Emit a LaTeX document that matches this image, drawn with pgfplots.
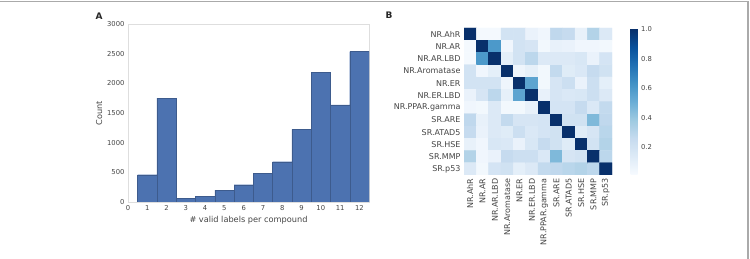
\documentclass[border=0pt]{standalone}
\usepackage{pgfplots}
\pgfplotsset{compat=1.18}
\usepackage{fontspec}
\setmainfont{DejaVu Sans}
\definecolor{histblue}{RGB}{76,114,176}
\definecolor{txt}{RGB}{68,68,68}
\definecolor{framegray}{RGB}{222,222,222}
\definecolor{pagerule}{RGB}{170,170,170}
% matplotlib "Blues"
\pgfplotsset{colormap={sbblues}{rgb255=(247,251,255) rgb255=(222,235,247) rgb255=(198,219,239)
  rgb255=(158,202,225) rgb255=(107,174,214) rgb255=(66,146,198) rgb255=(33,113,181)
  rgb255=(8,81,156) rgb255=(8,48,107)}}
\begin{document}
\begin{tikzpicture}
\path[use as bounding box] (0pt,0pt) rectangle (750pt,259pt);
\draw[pagerule, line width=1.4pt] (0pt,257.6pt) -- (747.8pt,257.6pt) -- (747.8pt,0pt);

\node[font=\bfseries\fontsize{9}{10}\selectfont, text=black!85] at (99pt,243pt) {A};
\node[font=\bfseries\fontsize{9}{10}\selectfont, text=black!85] at (389pt,244pt) {B};

% Panel A: histogram of valid labels per compound
\begin{axis}[
  at={(128pt,57pt)}, anchor=south west, scale only axis,
  width=241pt, height=178pt,
  xmin=0, xmax=12.5, ymin=0, ymax=3000,
  xtick={0,...,12}, ytick={0,500,...,3000},
  axis line style={draw=framegray, line width=0.6pt},
  tick style={draw=none},
  ticklabel style={font=\fontsize{6.8}{7}\selectfont, text=txt},
  /pgf/number format/assume math mode=true,
  /pgf/number format/1000 sep={},
  xlabel={\# valid labels per compound}, ylabel={Count},
  label style={font=\fontsize{8.2}{9}\selectfont, text=txt},
  xlabel style={at={(axis description cs:0.5,-0.105)}, anchor=center},
  ylabel style={at={(axis description cs:-0.12,0.5)}, anchor=center},
]
\addplot[ybar interval, fill=histblue, draw=histblue!80!black, line width=0.3pt]
  coordinates {(0.5,460) (1.5,1752) (2.5,58) (3.5,98) (4.5,198) (5.5,292) (6.5,482)
               (7.5,680) (8.5,1225) (9.5,2185) (10.5,1635) (11.5,2535) (12.5,2535)};
\end{axis}

% Panel B: correlation between assay labels
\begin{axis}[
  at={(464pt,84pt)}, anchor=south west, scale only axis,
  width=148pt, height=147pt,
  xmin=-0.5, xmax=11.5, ymin=-0.5, ymax=11.5, y dir=reverse,
  axis line style={draw=none}, tick style={draw=none},
  xtick={0,...,11}, ytick={0,...,11},
  xticklabels={NR.AhR,NR.AR,NR.AR.LBD,NR.Aromatase,NR.ER,NR.ER.LBD,NR.PPAR.gamma,SR.ARE,SR.ATAD5,SR.HSE,SR.MMP,SR.p53},
  yticklabels={NR.AhR,NR.AR,NR.AR.LBD,NR.Aromatase,NR.ER,NR.ER.LBD,NR.PPAR.gamma,SR.ARE,SR.ATAD5,SR.HSE,SR.MMP,SR.p53},
  x tick label style={rotate=90, anchor=east},
  ticklabel style={font=\fontsize{8}{9}\selectfont, text=txt},
  colormap name=sbblues,
  point meta min=0.014, point meta max=1,
  colorbar,
  colorbar style={
    at={(parent axis.north east)}, anchor=north west, xshift=10pt, yshift=-1pt,
    scale only axis, width=7pt, height=146pt,
    axis line style={draw=none}, tick style={draw=none},
    ytick={0.2,0.4,0.6,0.8,1.0},
    yticklabel style={font=\fontsize{6.8}{7}\selectfont, text=txt,
      /pgf/number format/.cd, fixed, fixed zerofill, precision=1, assume math mode=true},
  },
]
\addplot[matrix plot*, mesh/cols=12, point meta=explicit]
  table[row sep=\\, meta=z] {
x y z\\
0 0 1\\ 1 0 0.03\\ 2 0 0.03\\ 3 0 0.20\\ 4 0 0.20\\ 5 0 0.08\\ 6 0 0.05\\ 7 0 0.28\\ 8 0 0.26\\ 9 0 0.09\\ 10 0 0.32\\ 11 0 0.15\\
0 1 0.03\\ 1 1 1\\ 2 1 0.60\\ 3 1 0.05\\ 4 1 0.20\\ 5 1 0.18\\ 6 1 0.04\\ 7 1 0.09\\ 8 1 0.08\\ 9 1 0.05\\ 10 1 0.05\\ 11 1 0.04\\
0 2 0.03\\ 1 2 0.60\\ 2 2 1\\ 3 2 0.11\\ 4 2 0.20\\ 5 2 0.29\\ 6 2 0.15\\ 7 2 0.15\\ 8 2 0.15\\ 9 2 0.17\\ 10 2 0.08\\ 11 2 0.19\\
0 3 0.20\\ 1 3 0.05\\ 2 3 0.11\\ 3 3 1\\ 4 3 0.06\\ 5 3 0.10\\ 6 3 0.04\\ 7 3 0.27\\ 8 3 0.13\\ 9 3 0.16\\ 10 3 0.26\\ 11 3 0.21\\
0 4 0.20\\ 1 4 0.20\\ 2 4 0.20\\ 3 4 0.06\\ 4 4 1\\ 5 4 0.55\\ 6 4 0.04\\ 7 4 0.18\\ 8 4 0.23\\ 9 4 0.08\\ 10 4 0.23\\ 11 4 0.11\\
0 5 0.08\\ 1 5 0.18\\ 2 5 0.29\\ 3 5 0.10\\ 4 5 0.55\\ 5 5 1\\ 6 5 0.09\\ 7 5 0.18\\ 8 5 0.16\\ 9 5 0.17\\ 10 5 0.23\\ 11 5 0.15\\
0 6 0.05\\ 1 6 0.04\\ 2 6 0.15\\ 3 6 0.04\\ 4 6 0.04\\ 5 6 0.09\\ 6 6 1\\ 7 6 0.19\\ 8 6 0.19\\ 9 6 0.26\\ 10 6 0.16\\ 11 6 0.27\\
0 7 0.28\\ 1 7 0.09\\ 2 7 0.15\\ 3 7 0.27\\ 4 7 0.18\\ 5 7 0.18\\ 6 7 0.19\\ 7 7 1\\ 8 7 0.21\\ 9 7 0.21\\ 10 7 0.46\\ 11 7 0.28\\
0 8 0.26\\ 1 8 0.08\\ 2 8 0.15\\ 3 8 0.13\\ 4 8 0.23\\ 5 8 0.16\\ 6 8 0.19\\ 7 8 0.21\\ 8 8 1\\ 9 8 0.13\\ 10 8 0.18\\ 11 8 0.30\\
0 9 0.09\\ 1 9 0.05\\ 2 9 0.17\\ 3 9 0.16\\ 4 9 0.08\\ 5 9 0.17\\ 6 9 0.26\\ 7 9 0.21\\ 8 9 0.13\\ 9 9 1\\ 10 9 0.20\\ 11 9 0.32\\
0 10 0.32\\ 1 10 0.05\\ 2 10 0.08\\ 3 10 0.26\\ 4 10 0.23\\ 5 10 0.23\\ 6 10 0.16\\ 7 10 0.46\\ 8 10 0.18\\ 9 10 0.20\\ 10 10 1\\ 11 10 0.29\\
0 11 0.15\\ 1 11 0.04\\ 2 11 0.19\\ 3 11 0.21\\ 4 11 0.11\\ 5 11 0.15\\ 6 11 0.27\\ 7 11 0.28\\ 8 11 0.30\\ 9 11 0.32\\ 10 11 0.29\\ 11 11 1\\
};
\end{axis}
\end{tikzpicture}
\end{document}
